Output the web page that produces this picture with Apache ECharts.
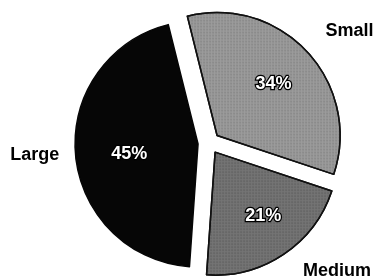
<!DOCTYPE html>
<html>
<head>
<meta charset="utf-8">
<script src="https://cdn.jsdelivr.net/npm/echarts@6/dist/echarts.min.js"></script>
<style>
  html, body { margin: 0; padding: 0; background: #fff; }
  #main { width: 375px; height: 279px; }
</style>
</head>
<body>
<div id="main"></div>
<script>
// 数据
var categories = ["Small", "Medium", "Large"];
var shares = [34, 21, 45];

// 样式（不放在数据里）
var sliceColors = ["#9c9c9c", "#747474", "#060606"];
var pctShift = [[-3, 4], [3, -3], [12, 3]];
var nameShift = [[10, 9], [29, -20], [3, -3]];

var myChart = echarts.init(document.getElementById("main"));

var common = {
  type: "pie",
  center: [209, 143],
  startAngle: 104,
  clockwise: true,
  selectedMode: "multiple",
  selectedOffset: 11,
  animation: false,
  emphasis: { disabled: true }
};

function items(sel, extra) {
  return categories.map(function (name, i) {
    var d = { name: name, value: shares[i], selected: sel };
    if (extra) extra(d, i);
    return d;
  });
}

var font = "Liberation Sans, Arial, sans-serif";

var option = {
  backgroundColor: "#fff",
  series: [
    // 扇形本身
    Object.assign({}, common, {
      radius: [0, 123],
      label: { show: false },
      labelLine: { show: false },
      data: items(true, function (d, i) {
        d.itemStyle = {
          color: sliceColors[i],
          borderColor: i < 2 ? "#111" : "#060606",
          borderWidth: 1.5,
          decal: i < 2 ? {
            symbol: "circle",
            symbolSize: 0.7,
            dashArrayX: [2, 1],
            dashArrayY: [2, 1],
            color: "rgba(0,0,0,0.3)"
          } : null
        };
      })
    }),
    // 百分比
    Object.assign({}, common, {
      radius: [32, 124],
      silent: true,
      itemStyle: { color: "rgba(0,0,0,0)" },
      label: {
        show: true,
        position: "inside",
        formatter: "{c}%",
        fontFamily: font,
        fontWeight: "bold",
        fontSize: 18,
        color: "#fff",
        textBorderColor: "#000",
        textBorderWidth: 2.5
      },
      labelLayout: function (p) {
        return { dx: pctShift[p.dataIndex][0], dy: pctShift[p.dataIndex][1] };
      },
      labelLine: { show: false },
      data: items(true)
    }),
    // 类别名
    Object.assign({}, common, {
      radius: [150, 200],
      silent: true,
      itemStyle: { color: "rgba(0,0,0,0)" },
      label: {
        show: true,
        position: "inside",
        formatter: "{b}",
        fontFamily: font,
        fontWeight: "bold",
        fontSize: 18,
        color: "#000"
      },
      labelLayout: function (p) {
        return { dx: nameShift[p.dataIndex][0], dy: nameShift[p.dataIndex][1] };
      },
      labelLine: { show: false },
      data: items(false)
    })
  ]
};

myChart.setOption(option);
</script>
</body>
</html>
